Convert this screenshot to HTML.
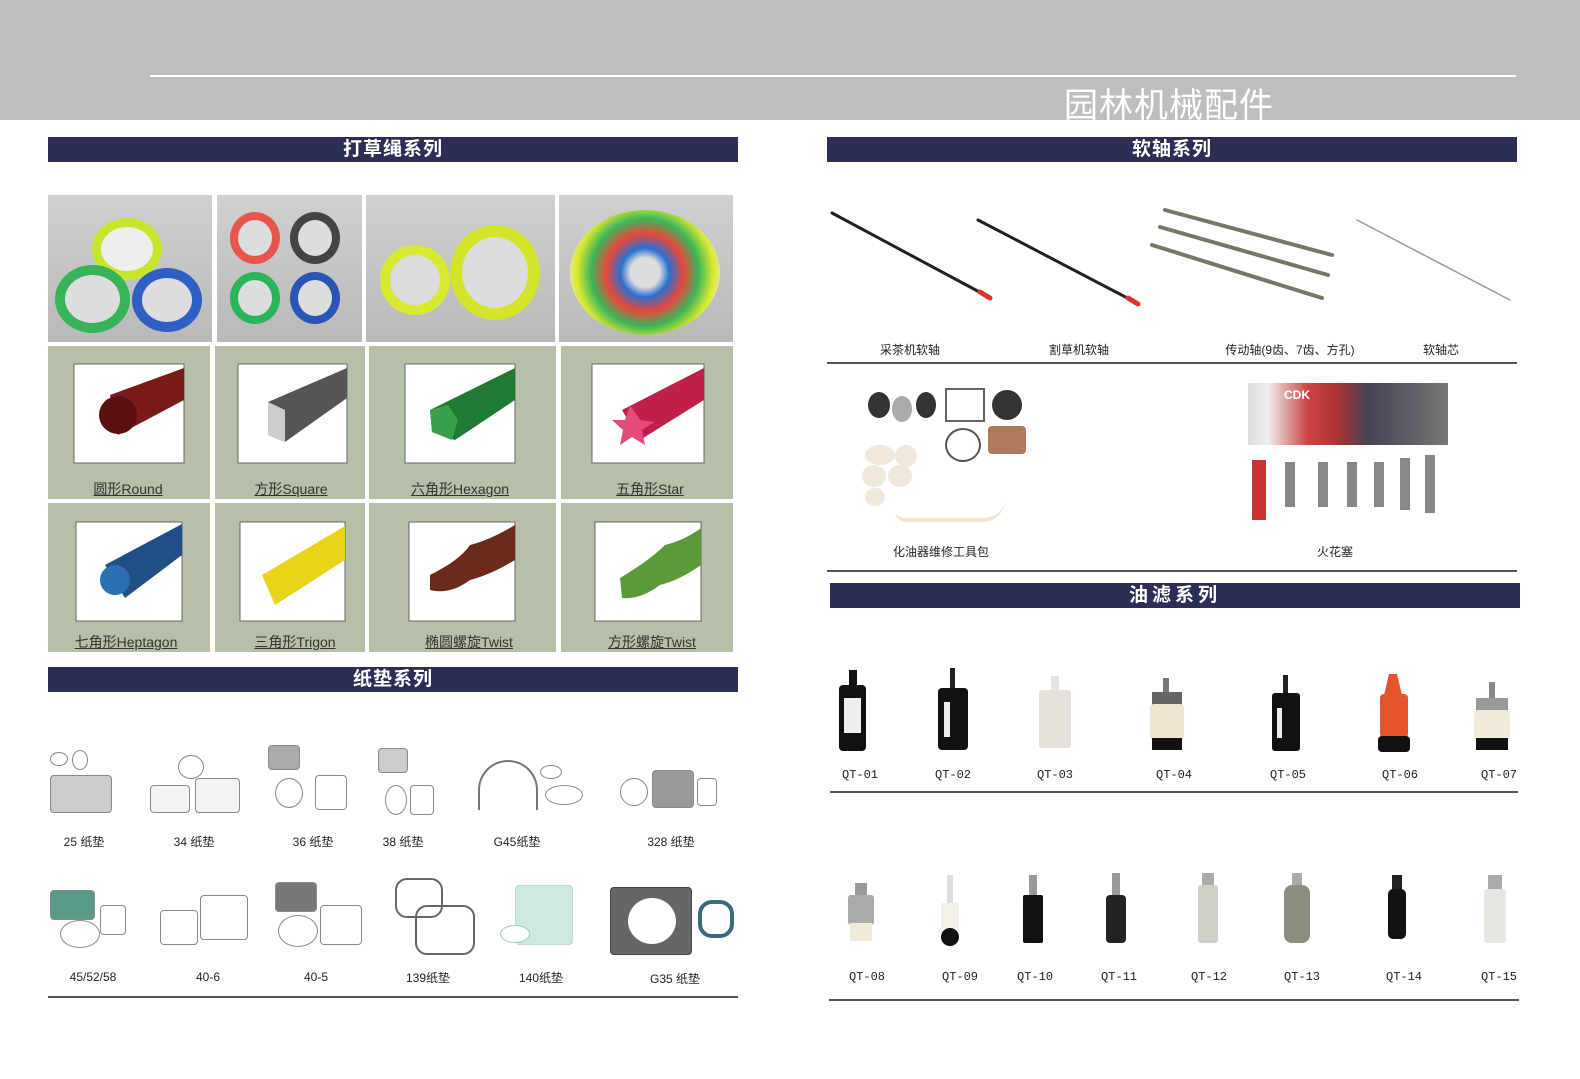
<!DOCTYPE html>
<html><head><meta charset="utf-8">
<style>
*{margin:0;padding:0;box-sizing:border-box}
body{width:1580px;height:1079px;background:#fff;position:relative;overflow:hidden;font-family:"Liberation Sans","Noto Sans CJK SC",sans-serif}
.a{position:absolute}
.bar{position:absolute;height:25px;background:#2c2e55;color:#fff;font-size:19px;font-weight:bold;text-align:center;line-height:25px;letter-spacing:1px}
.line{position:absolute;height:2px;background:#555}
.lbl{position:absolute;font-size:12px;color:#222;transform:translateX(-50%);white-space:nowrap}
.g{position:absolute;background:#b6c0a9}
.cap{position:absolute;font-size:14px;color:#333;text-decoration:underline;transform:translateX(-50%);white-space:nowrap}
.ph{position:absolute;background:linear-gradient(#cfd0d0,#b8b9b9)}
.c{position:absolute;border-radius:50%}
.qt{position:absolute;font-family:"Liberation Mono",monospace;font-size:12px;color:#222;transform:translateX(-50%)}
.gk{position:absolute;border:1.5px solid #8a8a8a;border-radius:4px;background:#f3f3f3}
.h{position:absolute;border:1.5px solid #888;border-radius:50%;background:#fff}
</style></head><body>
<div class="a" style="left:0;top:0;width:1580px;height:120px;background:#bebebe"></div>
<div class="a" style="left:150px;top:75px;width:1366px;height:2px;background:#fff"></div>
<div class="a" style="left:1064px;top:78px;font-size:34px;color:#fff;letter-spacing:1px">园林机械配件</div>

<div class="bar" style="left:48px;top:137px;width:690px">打草绳系列</div>
<div class="bar" style="left:827px;top:137px;width:690px">软轴系列</div>
<div class="bar" style="left:48px;top:667px;width:690px">纸垫系列</div>
<div class="bar" style="left:830px;top:583px;width:690px;letter-spacing:4px">油滤系列</div>

<div class="ph" style="left:48px;top:195px;width:164px;height:147px"></div>
<div class="c" style="left:92px;top:218px;width:70px;height:62px;border:9px solid #c9e52b;background:#eee"></div>
<div class="c" style="left:55px;top:265px;width:75px;height:68px;border:10px solid #37b35a;background:#ddd"></div>
<div class="c" style="left:132px;top:268px;width:70px;height:64px;border:10px solid #2f5fc4;background:#ddd"></div>
<div class="ph" style="left:217px;top:195px;width:145px;height:147px"></div>
<div class="c" style="left:230px;top:212px;width:50px;height:52px;border:8px solid #e9554d;background:#ddd"></div>
<div class="c" style="left:290px;top:212px;width:50px;height:52px;border:8px solid #444;background:#ddd"></div>
<div class="c" style="left:230px;top:272px;width:50px;height:52px;border:8px solid #2cb45a;background:#ddd"></div>
<div class="c" style="left:290px;top:272px;width:50px;height:52px;border:8px solid #2a54b5;background:#ddd"></div>
<div class="ph" style="left:366px;top:195px;width:189px;height:147px"></div>
<div class="c" style="left:380px;top:245px;width:70px;height:70px;border:10px solid #d9e830;background:#ddd"></div>
<div class="c" style="left:450px;top:225px;width:90px;height:95px;border:12px solid #d3e42a;background:#ddd"></div>
<div class="ph" style="left:559px;top:195px;width:174px;height:147px"></div>
<div class="c" style="left:570px;top:210px;width:150px;height:125px;background:radial-gradient(circle,#ddd 15%,#2a6fd0 25%,#e8483a 40%,#3bb55a 55%,#d9e830 70%,#eee 85%)"></div>

<div class="g" style="left:48px;top:346px;width:162px;height:153px"></div>
<div class="g" style="left:215px;top:346px;width:150px;height:153px"></div>
<div class="g" style="left:369px;top:346px;width:187px;height:153px"></div>
<div class="g" style="left:561px;top:346px;width:172px;height:153px"></div>
<div class="g" style="left:48px;top:503px;width:162px;height:149px"></div>
<div class="g" style="left:215px;top:503px;width:150px;height:149px"></div>
<div class="g" style="left:369px;top:503px;width:187px;height:149px"></div>
<div class="g" style="left:561px;top:503px;width:172px;height:149px"></div>

<svg class="a" style="left:0;top:0" width="740" height="660">
<g stroke="#666" fill="#fff"><rect x="74" y="364" width="110" height="99"/><rect x="238" y="364" width="109" height="99"/><rect x="405" y="364" width="110" height="99"/><rect x="592" y="364" width="112" height="99"/>
<rect x="76" y="522" width="106" height="99"/><rect x="240" y="522" width="105" height="99"/><rect x="409" y="522" width="106" height="99"/><rect x="595" y="522" width="106" height="99"/></g>
<polygon points="110,395 184,368 184,400 118,435" fill="#7a1a1a"/><circle cx="118" cy="415" r="19" fill="#5a0f10"/>
<polygon points="268,402 347,368 347,398 285,442 268,435" fill="#555"/><polygon points="268,402 285,410 285,442 268,435" fill="#ccc"/>
<polygon points="430,410 515,368 515,400 455,440 432,432" fill="#1f7a33"/><polygon points="430,410 448,405 458,420 452,440 432,432" fill="#3aa04a"/>
<polygon points="622,410 704,368 704,400 640,440" fill="#c01f4a"/><polygon points="630,405 640,420 655,422 642,430 645,445 632,437 620,445 623,430 612,420 625,420" fill="#e64a78"/>
<polygon points="105,565 182,524 182,555 125,598" fill="#1f4f86"/><circle cx="115" cy="580" r="15" fill="#2a6fb0"/>
<polygon points="262,575 345,526 345,560 275,605" fill="#e8d51a"/>
<path d="M430,575 Q460,560 470,545 Q490,540 515,525 L515,560 Q490,575 470,580 Q450,595 430,590Z" fill="#6b2a1c"/>
<path d="M620,578 Q650,560 665,545 Q685,540 701,528 L701,565 Q680,580 660,585 Q640,600 622,598Z" fill="#5a9a3a"/>
</svg>
<div class="cap" style="left:128px;top:479px">圆形Round</div>
<div class="cap" style="left:291px;top:479px">方形Square</div>
<div class="cap" style="left:460px;top:479px">六角形Hexagon</div>
<div class="cap" style="left:650px;top:479px">五角形Star</div>
<div class="cap" style="left:126px;top:632px">七角形Heptagon</div>
<div class="cap" style="left:295px;top:632px">三角形Trigon</div>
<div class="cap" style="left:469px;top:632px">椭圆螺旋Twist</div>
<div class="cap" style="left:652px;top:632px">方形螺旋Twist</div>

<!-- gaskets row1 -->
<div class="gk" style="left:50px;top:775px;width:62px;height:38px;background:#ccc"></div>
<div class="h" style="left:50px;top:752px;width:18px;height:14px"></div><div class="h" style="left:72px;top:750px;width:16px;height:20px"></div>
<div class="gk" style="left:150px;top:785px;width:40px;height:28px"></div><div class="gk" style="left:195px;top:778px;width:45px;height:35px"></div>
<div class="h" style="left:178px;top:755px;width:26px;height:24px"></div>
<div class="gk" style="left:268px;top:745px;width:32px;height:25px;background:#aaa"></div>
<div class="h" style="left:275px;top:778px;width:28px;height:30px"></div><div class="gk" style="left:315px;top:775px;width:32px;height:35px;background:#fff"></div>
<div class="gk" style="left:378px;top:748px;width:30px;height:25px;background:#ccc"></div>
<div class="h" style="left:385px;top:785px;width:22px;height:30px"></div><div class="gk" style="left:410px;top:785px;width:24px;height:30px;background:#fff"></div>
<div class="a" style="left:478px;top:760px;width:60px;height:50px;border:2px solid #777;border-radius:30px 30px 0 0;border-bottom:none"></div>
<div class="h" style="left:540px;top:765px;width:22px;height:14px"></div><div class="h" style="left:545px;top:785px;width:38px;height:20px"></div>
<div class="gk" style="left:652px;top:770px;width:42px;height:38px;background:#999"></div>
<div class="h" style="left:620px;top:778px;width:28px;height:28px"></div><div class="gk" style="left:697px;top:778px;width:20px;height:28px;background:#fff"></div>
<!-- gaskets row2 -->
<div class="gk" style="left:50px;top:890px;width:45px;height:30px;background:#5a9a8a"></div>
<div class="h" style="left:60px;top:920px;width:40px;height:28px"></div><div class="gk" style="left:100px;top:905px;width:26px;height:30px;background:#fff"></div>
<div class="gk" style="left:160px;top:910px;width:38px;height:35px;background:#fff"></div><div class="gk" style="left:200px;top:895px;width:48px;height:45px;background:#fff"></div>
<div class="gk" style="left:275px;top:882px;width:42px;height:30px;background:#777"></div>
<div class="h" style="left:278px;top:915px;width:40px;height:32px"></div><div class="gk" style="left:320px;top:905px;width:42px;height:40px;background:#fff"></div>
<div class="a" style="left:395px;top:878px;width:48px;height:40px;border:2px solid #666;border-radius:12px"></div>
<div class="a" style="left:415px;top:905px;width:60px;height:50px;border:2px solid #666;border-radius:12px"></div>
<div class="gk" style="left:515px;top:885px;width:58px;height:60px;background:#cfe8e0;border-color:#bdd"></div>
<div class="h" style="left:500px;top:925px;width:30px;height:18px;border-color:#9cc"></div>
<div class="gk" style="left:610px;top:887px;width:82px;height:68px;background:#666;border-color:#444"></div>
<div class="c" style="left:628px;top:898px;width:48px;height:46px;background:#fff"></div>
<div class="gk" style="left:698px;top:900px;width:36px;height:38px;background:#fff;border-color:#3a6a80;border-width:4px;border-radius:14px"></div>
<div class="lbl" style="left:84px;top:833px">25 纸垫</div>
<div class="lbl" style="left:194px;top:833px">34 纸垫</div>
<div class="lbl" style="left:313px;top:833px">36 纸垫</div>
<div class="lbl" style="left:403px;top:833px">38 纸垫</div>
<div class="lbl" style="left:517px;top:833px">G45纸垫</div>
<div class="lbl" style="left:671px;top:833px">328 纸垫</div>
<div class="lbl" style="left:93px;top:970px">45/52/58</div>
<div class="lbl" style="left:208px;top:970px">40-6</div>
<div class="lbl" style="left:316px;top:970px">40-5</div>
<div class="lbl" style="left:428px;top:969px">139纸垫</div>
<div class="lbl" style="left:541px;top:969px">140纸垫</div>
<div class="lbl" style="left:675px;top:970px">G35 纸垫</div>
<div class="line" style="left:48px;top:996px;width:690px"></div>

<svg class="a" style="left:820px;top:195px" width="700" height="120">
<g stroke-linecap="round">
<line x1="12" y1="18" x2="165" y2="100" stroke="#222" stroke-width="3"/><line x1="160" y1="97" x2="170" y2="103" stroke="#d33" stroke-width="5"/>
<line x1="158" y1="25" x2="315" y2="107" stroke="#222" stroke-width="3"/><line x1="308" y1="103" x2="318" y2="109" stroke="#d33" stroke-width="5"/>
<line x1="345" y1="15" x2="512" y2="60" stroke="#776" stroke-width="4"/>
<line x1="340" y1="32" x2="508" y2="80" stroke="#776" stroke-width="4"/>
<line x1="332" y1="50" x2="502" y2="103" stroke="#776" stroke-width="4"/>
<line x1="537" y1="25" x2="690" y2="105" stroke="#999" stroke-width="1.5"/>
</g></svg>
<div class="lbl" style="left:910px;top:341px">采茶机软轴</div>
<div class="lbl" style="left:1079px;top:341px">割草机软轴</div>
<div class="lbl" style="left:1290px;top:341px">传动轴(9齿、7齿、方孔)</div>
<div class="lbl" style="left:1441px;top:341px">软轴芯</div>
<div class="line" style="left:827px;top:362px;width:690px"></div>

<div class="c" style="left:868px;top:392px;width:22px;height:26px;background:#333"></div>
<div class="c" style="left:892px;top:396px;width:20px;height:26px;background:#aaa"></div>
<div class="c" style="left:916px;top:392px;width:20px;height:26px;background:#333"></div>
<div class="a" style="left:945px;top:388px;width:40px;height:34px;border:2px solid #666"></div>
<div class="c" style="left:992px;top:390px;width:30px;height:30px;background:#333"></div>
<div class="a" style="left:945px;top:428px;width:36px;height:34px;border:2px solid #555;border-radius:50%"></div>
<div class="a" style="left:988px;top:426px;width:38px;height:28px;background:#b07a5e;border-radius:4px"></div>
<div class="c" style="left:865px;top:445px;width:30px;height:20px;background:#eee8dd"></div>
<div class="c" style="left:895px;top:445px;width:22px;height:22px;background:#eee8dd"></div>
<div class="c" style="left:862px;top:465px;width:24px;height:22px;background:#eee8dd"></div>
<div class="c" style="left:888px;top:465px;width:24px;height:22px;background:#eee8dd"></div>
<div class="c" style="left:865px;top:488px;width:20px;height:18px;background:#eee8dd"></div>
<div class="a" style="left:895px;top:500px;width:110px;height:22px;border-bottom:4px solid #f0e6cc;border-radius:0 0 60px 30px"></div>
<div class="lbl" style="left:941px;top:543px">化油器维修工具包</div>
<div class="a" style="left:1248px;top:383px;width:200px;height:62px;background:linear-gradient(90deg,#ddd 0,#eee 10%,#c44 30%,#a33 45%,#445 60%,#777 100%)"></div>
<div class="a" style="left:1284px;top:388px;color:#fff;font-size:12px;font-weight:bold">CDK</div>
<div class="a" style="left:1252px;top:460px;width:14px;height:60px;background:#c33"></div>
<div class="a" style="left:1285px;top:462px;width:10px;height:45px;background:#888"></div>
<div class="a" style="left:1318px;top:462px;width:10px;height:45px;background:#888"></div>
<div class="a" style="left:1347px;top:462px;width:10px;height:45px;background:#888"></div>
<div class="a" style="left:1374px;top:462px;width:10px;height:45px;background:#888"></div>
<div class="a" style="left:1400px;top:458px;width:10px;height:52px;background:#888"></div>
<div class="a" style="left:1425px;top:455px;width:10px;height:58px;background:#888"></div>
<div class="lbl" style="left:1335px;top:543px">火花塞</div>
<div class="line" style="left:827px;top:570px;width:690px"></div>

<svg class="a" style="left:820px;top:660px" width="710" height="100">
<g>
<rect x="29" y="10" width="8" height="18" fill="#111"/><rect x="19" y="25" width="27" height="66" rx="4" fill="#111"/><rect x="24" y="38" width="17" height="35" fill="#eee"/>
<rect x="130" y="8" width="5" height="22" fill="#222"/><rect x="118" y="28" width="30" height="62" rx="4" fill="#111"/><rect x="124" y="42" width="6" height="35" fill="#eee"/>
<rect x="231" y="16" width="8" height="16" fill="#e8e4dc"/><rect x="219" y="30" width="32" height="58" rx="3" fill="#e5e1da"/>
<rect x="343" y="18" width="6" height="18" fill="#777"/><rect x="332" y="32" width="30" height="14" fill="#666"/><rect x="330" y="44" width="34" height="36" rx="4" fill="#ede4d2"/><rect x="332" y="78" width="30" height="12" fill="#111"/>
<rect x="463" y="15" width="5" height="22" fill="#222"/><rect x="452" y="33" width="28" height="58" rx="3" fill="#111"/><rect x="457" y="48" width="5" height="30" fill="#eee"/>
<polygon points="569,14 577,14 582,35 564,35" fill="#e5542d"/><rect x="560" y="34" width="28" height="44" rx="4" fill="#e5542d"/><rect x="558" y="76" width="32" height="16" rx="4" fill="#111"/>
<rect x="669" y="22" width="6" height="18" fill="#888"/><rect x="656" y="38" width="32" height="14" fill="#999"/><rect x="654" y="50" width="36" height="30" rx="4" fill="#f0ead8"/><rect x="656" y="78" width="32" height="12" fill="#111"/>
</g></svg>
<div class="qt" style="left:860px;top:768px">QT-01</div>
<div class="qt" style="left:953px;top:768px">QT-02</div>
<div class="qt" style="left:1055px;top:768px">QT-03</div>
<div class="qt" style="left:1174px;top:768px">QT-04</div>
<div class="qt" style="left:1288px;top:768px">QT-05</div>
<div class="qt" style="left:1400px;top:768px">QT-06</div>
<div class="qt" style="left:1499px;top:768px">QT-07</div>
<div class="line" style="left:830px;top:791px;width:688px"></div>

<svg class="a" style="left:820px;top:865px" width="710" height="90">
<g>
<rect x="35" y="18" width="12" height="14" fill="#999"/><rect x="28" y="30" width="26" height="30" rx="3" fill="#aaa"/><rect x="30" y="58" width="22" height="18" fill="#f0ead8"/>
<rect x="127" y="10" width="6" height="30" fill="#ddd"/><rect x="121" y="38" width="18" height="30" fill="#f4f0ea"/><circle cx="130" cy="72" r="9" fill="#111"/>
<rect x="209" y="10" width="8" height="22" fill="#999"/><rect x="203" y="30" width="20" height="48" rx="2" fill="#111"/>
<rect x="292" y="8" width="8" height="24" fill="#999"/><rect x="286" y="30" width="20" height="48" rx="4" fill="#222"/>
<rect x="382" y="8" width="12" height="14" fill="#aaa"/><rect x="378" y="20" width="20" height="58" rx="3" fill="#cdd0c6"/>
<rect x="472" y="8" width="10" height="14" fill="#aaa"/><rect x="464" y="20" width="26" height="58" rx="8" fill="#8c8e80"/>
<rect x="572" y="10" width="10" height="16" fill="#222"/><rect x="568" y="24" width="18" height="50" rx="5" fill="#111"/>
<rect x="668" y="10" width="14" height="16" fill="#aaa"/><rect x="664" y="24" width="22" height="54" rx="3" fill="#e8e6e0"/>
</g></svg>
<div class="qt" style="left:867px;top:970px">QT-08</div>
<div class="qt" style="left:960px;top:970px">QT-09</div>
<div class="qt" style="left:1035px;top:970px">QT-10</div>
<div class="qt" style="left:1119px;top:970px">QT-11</div>
<div class="qt" style="left:1209px;top:970px">QT-12</div>
<div class="qt" style="left:1302px;top:970px">QT-13</div>
<div class="qt" style="left:1404px;top:970px">QT-14</div>
<div class="qt" style="left:1499px;top:970px">QT-15</div>
<div class="line" style="left:829px;top:999px;width:690px"></div>
</body></html>
